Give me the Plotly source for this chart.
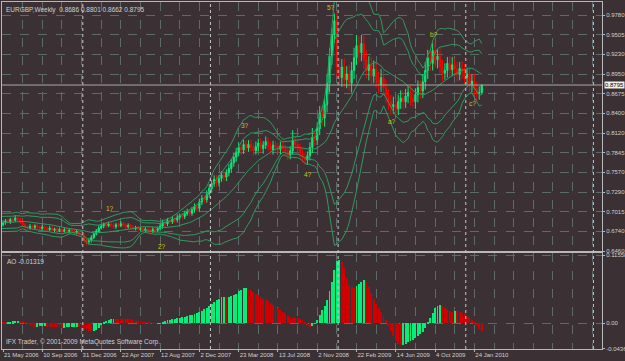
import numpy as np
import pandas as pd
import plotly.graph_objects as go

# ---------------- data (weekly EURGBP) ----------------
# 34 weeks of history before the first visible bar (needed by the bands / AO)
pre_close = [0.6830, 0.6795, 0.6770, 0.6805, 0.6780, 0.6760, 0.6795, 0.6820, 0.6785, 0.6810,
             0.6840, 0.6815, 0.6790, 0.6830, 0.6860, 0.6835, 0.6880, 0.6905, 0.6870, 0.6840,
             0.6810, 0.6775, 0.6800, 0.6850, 0.6890, 0.6925, 0.6900, 0.6870, 0.6905, 0.6935,
             0.6880, 0.6840, 0.6795, 0.6830]
pre_wick_up = [25, 30, 20, 35, 25, 30, 20, 25, 30, 20, 25, 35, 20, 30, 25, 30, 20, 25, 30, 35,
               25, 20, 30, 25, 35, 20, 30, 25, 20, 30, 25, 35, 20, 30]
pre_wick_dn = [30, 20, 25, 30, 35, 20, 25, 30, 20, 35, 25, 20, 30, 25, 20, 35, 25, 30, 20, 25,
               30, 35, 20, 30, 25, 30, 20, 35, 25, 20, 30, 25, 35, 20]
first_open = 0.6840

# visible bars, 21 May 2006 ... Feb 2010
close = [0.6860, 0.6885, 0.6870, 0.6905, 0.6890, 0.6925, 0.6910, 0.6870, 0.6830, 0.6800,
         0.6785, 0.6810, 0.6790, 0.6815, 0.6795, 0.6775, 0.6800, 0.6780, 0.6760, 0.6785,
         0.6750, 0.6770, 0.6745, 0.6765, 0.6740, 0.6760, 0.6735, 0.6755, 0.6740, 0.6720,
         0.6735, 0.6710, 0.6680, 0.6620, 0.6590, 0.6610, 0.6650, 0.6700, 0.6740, 0.6785,
         0.6810, 0.6835, 0.6815, 0.6840, 0.6820, 0.6800, 0.6830, 0.6815, 0.6845, 0.6825,
         0.6800, 0.6820, 0.6795, 0.6770, 0.6785, 0.6760, 0.6775, 0.6750, 0.6770, 0.6755,
         0.6740, 0.6765, 0.6750, 0.6775, 0.6810, 0.6860, 0.6840, 0.6890, 0.6870, 0.6910,
         0.6895, 0.6935, 0.6960, 0.6945, 0.6985, 0.7010, 0.6990, 0.7040, 0.7085, 0.7060,
         0.7150, 0.7200, 0.7180, 0.7260, 0.7340, 0.7410, 0.7470, 0.7420, 0.7480, 0.7530,
         0.7500, 0.7560, 0.7620, 0.7700, 0.7780, 0.7850, 0.7920, 0.7880, 0.7960, 0.7910,
         0.7960, 0.7920, 0.7870, 0.7930, 0.7980, 0.7900, 0.7950, 0.8000, 0.7930, 0.7880,
         0.7950, 0.7920, 0.7890, 0.7940, 0.7900, 0.7850, 0.7810, 0.7870, 0.8010, 0.7960,
         0.7900, 0.7830, 0.7780, 0.7740, 0.7800, 0.7920, 0.8060, 0.8020, 0.8180, 0.8400,
         0.8330, 0.8520, 0.8820, 0.9200, 0.9500, 0.9700, 0.9050, 0.8900, 0.9050, 0.8870,
         0.8950, 0.8820, 0.9000, 0.9180, 0.9350, 0.9250, 0.9380, 0.9150, 0.9000, 0.9080,
         0.8920, 0.9020, 0.8870, 0.8800, 0.8900, 0.8760, 0.8640, 0.8560, 0.8490, 0.8520,
         0.8460, 0.8560, 0.8610, 0.8560, 0.8640, 0.8690, 0.8610, 0.8560, 0.8660, 0.8760,
         0.8710, 0.8840, 0.9000, 0.9180, 0.9100, 0.9280, 0.9150, 0.9200, 0.9050, 0.8960,
         0.9000, 0.9100, 0.9010, 0.9080, 0.9020, 0.8950, 0.9030, 0.8980, 0.8900, 0.8950,
         0.8800, 0.8850, 0.8740, 0.8680, 0.8686, 0.8795]
# wick lengths in pips above the body / below the body
wick_up = [30, 25, 35, 20, 30, 40, 25, 20, 30, 25,
           20, 30, 25, 20, 30, 25, 30, 20, 25, 30,
           25, 20, 30, 25, 20, 30, 25, 20, 30, 25,
           30, 25, 20, 25, 30, 35, 30, 25, 30, 35,
           30, 25, 30, 35, 25, 30, 25, 30, 35, 25,
           25, 30, 20, 25, 30, 25, 20, 30, 25, 20,
           25, 30, 20, 30, 35, 40, 30, 35, 30, 40,
           35, 40, 30, 35, 40, 45, 35, 40, 45, 40,
           45, 50, 40, 55, 60, 50, 55, 60, 50, 55,
           55, 50, 60, 55, 65, 60, 70, 60, 65, 55,
           60, 65, 55, 70, 60, 65, 55, 70, 60, 65,
           60, 55, 65, 60, 70, 55, 60, 65, 150, 60,
           60, 70, 65, 70, 60, 70, 130, 80, 90, 100,
           110, 90, 120, 110, 100, 100, 120, 130, 110, 120,
           110, 130, 120, 140, 150, 130, 120, 110, 130, 120,
           110, 120, 100, 110, 120, 100, 110, 90, 100, 110,
           90, 100, 110, 90, 100, 90, 100, 110, 90, 100,
           100, 110, 120, 110, 100, 110, 120, 100, 110, 100,
           100, 90, 100, 110, 90, 100, 90, 100, 110, 90,
           100, 90, 110, 100, 90, 6]
wick_dn = [25, 30, 20, 30, 25, 20, 35, 30, 25, 35,
           30, 25, 20, 30, 25, 30, 20, 25, 30, 20,
           20, 30, 25, 20, 30, 25, 20, 30, 25, 30,
           25, 30, 40, 45, 50, 35, 30, 25, 20, 25,
           25, 30, 25, 20, 30, 25, 30, 25, 20, 30,
           30, 25, 30, 25, 20, 30, 25, 20, 30, 25,
           30, 25, 30, 25, 30, 35, 40, 30, 35, 30,
           40, 35, 30, 40, 35, 30, 45, 35, 40, 45,
           50, 45, 55, 40, 50, 60, 45, 55, 50, 45,
           60, 55, 50, 60, 55, 65, 60, 70, 55, 60,
           55, 60, 70, 55, 65, 60, 70, 55, 60, 65,
           65, 60, 55, 70, 60, 65, 70, 60, 55, 65,
           70, 65, 75, 60, 70, 65, 80, 75, 70, 90,
           100, 120, 110, 130, 120, 110, 140, 120, 130, 110,
           120, 110, 130, 120, 100, 140, 120, 130, 110, 140,
           120, 100, 110, 120, 100, 110, 100, 110, 120, 100,
           100, 90, 100, 110, 90, 100, 110, 90, 100, 110,
           110, 100, 110, 120, 110, 100, 110, 120, 100, 110,
           90, 100, 110, 90, 100, 110, 90, 100, 90, 100,
           100, 110, 90, 110, 90, 24]

date_labels = ["21 May 2006", "10 Sep 2006", "31 Dec 2006", "22 Apr 2007", "12 Aug 2007",
               "2 Dec 2007", "23 Mar 2008", "13 Jul 2008", "2 Nov 2008", "22 Feb 2009",
               "14 Jun 2009", "4 Oct 2009", "24 Jan 2010"]
date_bars = [0, 16, 32, 48, 64, 80, 96, 112, 128, 144, 160, 176, 192]
price_ticks = [0.9780, 0.9505, 0.9230, 0.8950, 0.8675, 0.8400, 0.8120, 0.7845,
               0.7570, 0.7290, 0.7015, 0.6740, 0.6460]
ao_ticks = [0.11558, 0.0, -0.04366]
ao_tick_text = ["0.11558", "0.00", "-0.04366"]
wave_text = ["1?", "2?", "3?", "4?", "5?", "a?", "b?", "c?"]
wave_bar = [43.6, 64.8, 98.6, 124.2, 133.6, 158.5, 175.6, 191.4]
wave_price = [0.7065, 0.6530, 0.8220, 0.7530, 0.9890, 0.8275, 0.9500, 0.8530]
separator_bars = [32, 84, 136, 188, 240]
grid_bars = list(range(0, 248, 8))
ao_label = "AO -0.01319"
copyright_text = "IFX Trader, \u00a9 2001-2009 MetaQuotes Software Corp."

# ---------------- derived series ----------------
all_close = np.array(pre_close + close)
all_up = np.array(pre_wick_up + wick_up) * 1e-4
all_dn = np.array(pre_wick_dn + wick_dn) * 1e-4
all_open = np.concatenate([[first_open], all_close[:-1]])
all_high = np.maximum(all_open, all_close) + all_up
all_low = np.minimum(all_open, all_close) - all_dn
n_pre = len(pre_close)
bars = np.arange(len(all_close)) - n_pre

s = pd.Series(all_close)
mid = s.rolling(20).mean()
sd = s.rolling(20).std(ddof=0)
med = pd.Series((all_high + all_low) / 2)
ao = (med.rolling(5).mean() - med.rolling(34).mean()).values

vis = bars >= 0
band_ok = bars >= -2

BG = "#3b3134"
FRAME = "#b8b8b8"
GRID = "#5c6b6a"
TXT = "#d0d0d0"
BULL = "#00f07a"
BEAR = "#ff0000"
BAND = "#2f9a60"
FONT = "Liberation Sans"
FS = 6

fig = go.Figure()

# Bollinger-style bands (20, 2 and 3 deviations)
for k in [3, 2, 0, -2, -3]:
    fig.add_trace(go.Scatter(x=bars[band_ok], y=(mid + k * sd).values[band_ok],
                             mode="lines", line=dict(color=BAND, width=1),
                             xaxis="x", yaxis="y", hoverinfo="skip", showlegend=False))

fig.add_trace(go.Candlestick(
    x=bars[vis], open=all_open[vis], high=all_high[vis], low=all_low[vis], close=all_close[vis],
    increasing=dict(line=dict(color=BULL, width=1), fillcolor=BULL),
    decreasing=dict(line=dict(color=BEAR, width=1), fillcolor=BEAR),
    whiskerwidth=0, xaxis="x", yaxis="y", showlegend=False))

ao_vis = ao[vis]
ao_prev = ao[np.where(vis)[0] - 1]
ao_col = [BULL if a > p else "#d00000" for a, p in zip(ao_vis, ao_prev)]
fig.add_trace(go.Bar(x=bars[vis], y=ao_vis, marker=dict(color=ao_col, line=dict(width=0)),
                     width=0.38, xaxis="x2", yaxis="y2", showlegend=False))

# ---------------- layout ----------------
W, H = 625, 361
ml, mr, mt, mb = 2, 23, 2, 12
ph = H - mt - mb
main_bottom_px, ao_top_px = 251, 253
main_dom = [(H - mb - main_bottom_px) / ph, 1.0]
ao_dom = [0.0, (H - mb - ao_top_px) / ph]

px_per_bar = 2.455
x0 = (ml - 3) / px_per_bar
x1 = (W - mr - 3) / px_per_bar

minor_grid = [b for b in grid_bars if b not in date_bars]
xcommon = dict(range=[x0, x1], showgrid=True, gridcolor=GRID, griddash="dash", gridwidth=1,
               showline=True, linecolor=FRAME, linewidth=1, mirror=True, zeroline=False,
               tickmode="array", tickvals=date_bars, automargin=False,
               minor=dict(tickvals=minor_grid, showgrid=True, gridcolor=GRID, griddash="dash",
                          ticks=""),
               fixedrange=True)

fig.update_layout(
    width=W, height=H, margin=dict(l=ml, r=mr, t=mt, b=mb, autoexpand=False),
    paper_bgcolor=BG, plot_bgcolor=BG, showlegend=False, bargap=0,
    font=dict(family=FONT, size=FS, color=TXT),
    xaxis=dict(**xcommon, anchor="y", showticklabels=False, ticks="",
               rangeslider=dict(visible=False)),
    xaxis2=dict(**xcommon, anchor="y2", matches="x", ticktext=date_labels,
                showticklabels=True, ticks="outside", ticklen=2, tickcolor=FRAME,
                tickangle=0, ticklabelposition="outside right",
                tickfont=dict(size=FS, color=TXT)),
    yaxis=dict(domain=main_dom, range=[0.6460, 0.9963], side="right", anchor="x",
               tickmode="array", tickvals=price_ticks, automargin=False,
               ticktext=[f"{v:.4f}" for v in price_ticks],
               showgrid=True, gridcolor=GRID, griddash="dash", zeroline=False,
               showline=True, linecolor=FRAME, mirror=True,
               ticks="outside", ticklen=2, tickcolor=FRAME,
               tickfont=dict(size=FS, color=TXT), fixedrange=True),
    yaxis2=dict(domain=ao_dom, range=[-0.0440, 0.1194], side="right", anchor="x2",
                tickmode="array", tickvals=ao_ticks, ticktext=ao_tick_text, automargin=False,
                showgrid=True, gridcolor=GRID, griddash="dash", zeroline=False,
                showline=True, linecolor=FRAME, mirror=True,
                ticks="outside", ticklen=2, tickcolor=FRAME,
                tickfont=dict(size=FS, color=TXT), fixedrange=True),
)

shapes = []
for b in separator_bars:
    shapes.append(dict(type="line", xref="x", yref="paper", x0=b + 0.5, x1=b + 0.5,
                       y0=0, y1=1, line=dict(color="#c8c8c8", width=1, dash="dot")))
shapes.append(dict(type="line", xref="paper", yref="y", x0=0, x1=1,
                   y0=close[-1], y1=close[-1], line=dict(color="#a8a8a8", width=1)))
fig.update_layout(shapes=shapes)

ann = []
last = len(all_close) - 1
header = (f"EURGBP,Weekly  {all_open[last]:.4f} {all_high[last]:.4f} "
          f"{all_low[last]:.4f} {all_close[last]:.4f}")
ann.append(dict(xref="paper", yref="paper", x=0, y=1, xanchor="left", yanchor="top",
                xshift=2, yshift=-2, text=header, showarrow=False,
                font=dict(size=6.5, color=TXT)))
ann.append(dict(xref="paper", yref="paper", x=0, y=ao_dom[1], xanchor="left", yanchor="top",
                xshift=3, yshift=-3, text=ao_label, showarrow=False,
                font=dict(size=6.5, color=TXT)))
ann.append(dict(xref="paper", yref="paper", x=0, y=0, xanchor="left", yanchor="bottom",
                xshift=2, yshift=1, text=copyright_text, showarrow=False,
                font=dict(size=6.5, color=TXT)))
for t, b, p in zip(wave_text, wave_bar, wave_price):
    ann.append(dict(xref="x", yref="y", x=b, y=p, text=t, showarrow=False,
                    font=dict(size=6.5, color="#c8c810")))
ann.append(dict(xref="paper", yref="y", x=1, y=close[-1], xanchor="left", yanchor="middle",
                xshift=2, text=f"{close[-1]:.4f}", showarrow=False, bgcolor="#f0f0f0",
                borderpad=0, font=dict(size=FS, color="#000000")))
fig.update_layout(annotations=ann)

fig.write_html("out.html")
